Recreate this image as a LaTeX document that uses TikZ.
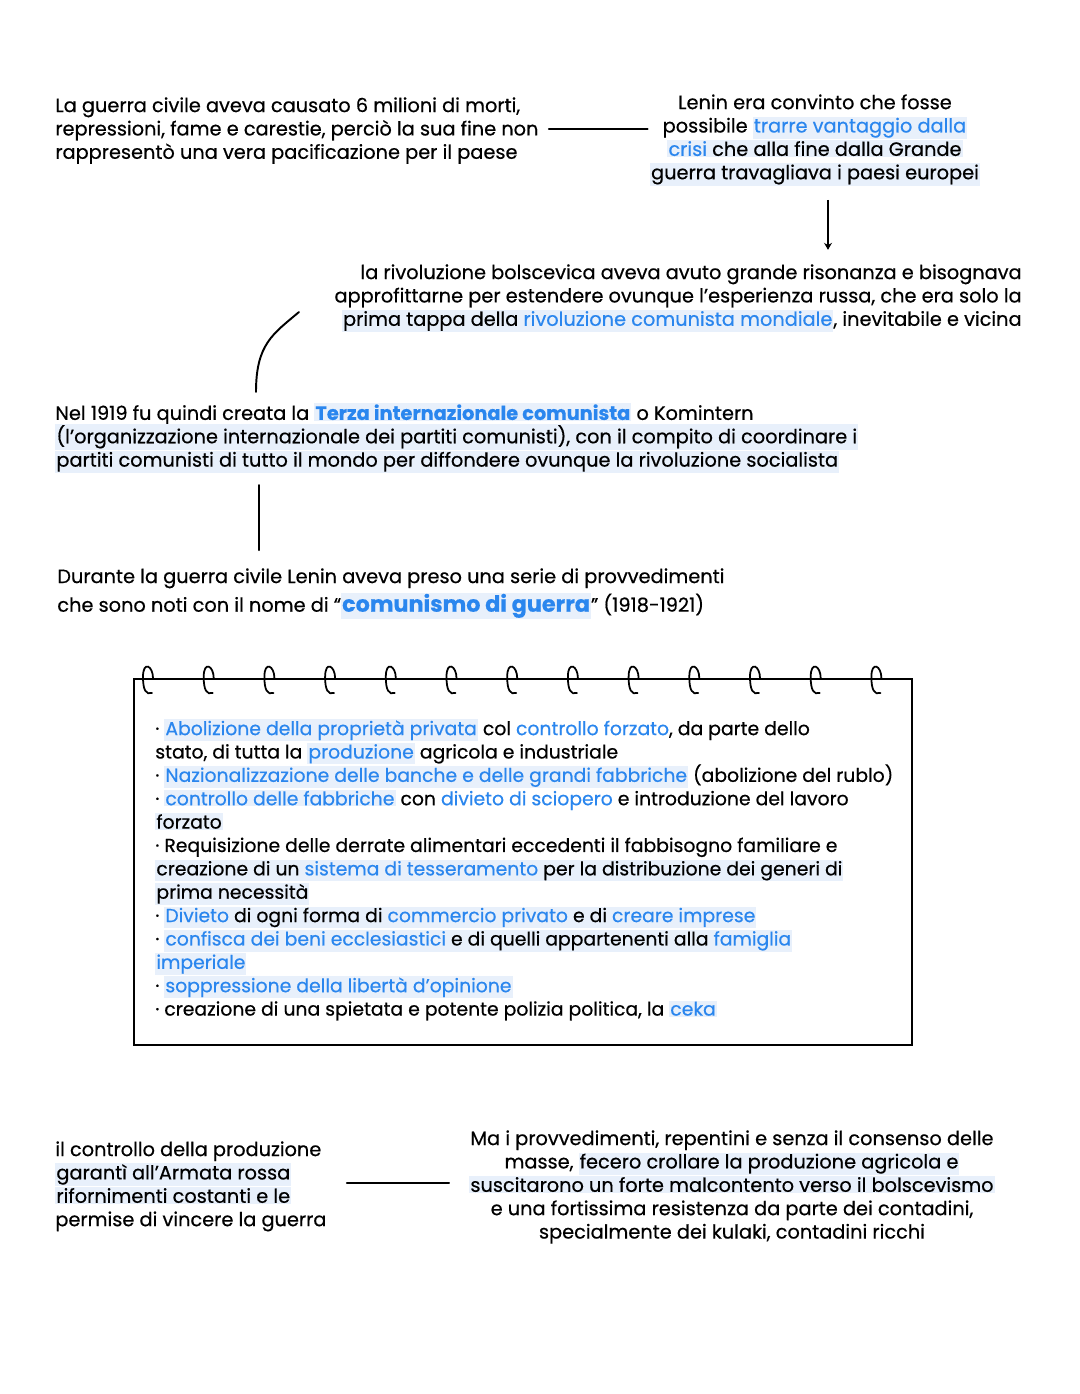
\documentclass[tikz,border=0pt]{standalone}
\usepackage{fontspec}
\setmainfont[FakeBold=0.5]{Poppins}
\usepackage{xcolor}
\usetikzlibrary{arrows.meta,positioning,calc}
\definecolor{penblue}{HTML}{2A86EE}
\definecolor{marker}{HTML}{E8F0FB}
\newcommand{\bl}[1]{\textcolor{penblue}{#1}}
\newcommand{\hl}[1]{{\setlength{\fboxsep}{0.6pt}\colorbox{marker}{#1}}}
\newcommand{\titolo}[1]{\textcolor{penblue}{\bfseries #1}}

\begin{document}
\begin{tikzpicture}[x=0.2mm, y=-0.2mm, >={Stealth[length=4pt,width=4.5pt]},
  every node/.style={font={\fontsize{11}{13.3}\selectfont\lineskiplimit=-20pt}, inner sep=0pt},
  txt/.style={align=left},
  conn/.style={line width=1.1pt, line cap=round},
  notebook/.style={draw, line width=1.3pt, minimum width=155.6mm, minimum height=73.2mm},
  ring/.style={line width=1pt, line cap=round}]
\useasboundingbox[fill=white] (0,0) rectangle (1080,1394);

% in alto
\node[txt, anchor=north west] (guerra) at (55,97) {La guerra civile aveva causato 6 milioni di morti,\\
repressioni, fame e carestie, perciò la sua fine non\\
rappresentò una vera pacificazione per il paese};
\node[align=center, anchor=north] (lenin) at (815,94) {Lenin era convinto che fosse\\
possibile \hl{\bl{trarre vantaggio dalla}}\\
\hl{\bl{crisi} che alla fine dalla Grande}\\
\hl{guerra travagliava i paesi europei}};
\draw[conn] ($(guerra.east)+(10,-2)$) -- ($(guerra.east -| lenin.west)+(-2,-2)$);
\draw[->, line width=1pt] ($(lenin.south)+(13,14)$) -- ($(lenin.south)+(13,64)$);

\node[align=right, anchor=north east] (rivol) at (1022,264) {la rivoluzione bolscevica aveva avuto grande risonanza e bisognava\\
approfittarne per estendere ovunque l'esperienza russa, che era solo la\\
\hl{prima tappa della \bl{rivoluzione comunista mondiale}}, inevitabile e vicina};

% Komintern
\node[txt, anchor=north west] (komintern) at (55,403) {Nel 1919 fu quindi creata la \hl{\titolo{Terza internazionale comunista}} o Komintern\\
\hl{(l'organizzazione internazionale dei partiti comunisti), con il compito di coordinare i}\\
\hl{partiti comunisti di tutto il mondo per diffondere ovunque la rivoluzione socialista}};
\draw[conn] ($(komintern.north west)+(201,-11)$) .. controls +(0,-48) and +(-26,22) .. +(43,-80);

\node[txt, anchor=north west] (durante) at (57,568) {Durante la guerra civile Lenin aveva preso una serie di provvedimenti\\[3pt]
che sono noti con il nome di “\hl{\titolo{\fontsize{12.7}{13}\selectfont comunismo di guerra}}” (1918-1921)};
\draw[conn] ($(komintern.south west)+(204,12)$) -- ($(komintern.south west)+(204,77)$);

% quaderno
\node[notebook, anchor=north west] (nb) at (133,678) {};
\foreach \i in {0,...,12} {
  \coordinate (r) at ($(nb.north west)+({15+60.7*\i},0)$);
  \draw[ring] ($(r)+(5,0)$) .. controls ($(r)+(5,-12)$) and ($(r)+(-5,-18)$) .. ($(r)+(-5,-1)$)
    .. controls ($(r)+(-5,12)$) and ($(r)+(-2,17)$) .. ($(r)+(4,15)$);
}
\node[txt, anchor=north west, font={\fontsize{10.7}{13.3}\selectfont\lineskiplimit=-20pt}] (lista) at ($(nb.north west)+(22,41)$) {· \hl{\bl{Abolizione della proprietà privata}} col \bl{controllo forzato}, da parte dello\\
stato, di tutta la \hl{\bl{produzione}} agricola e industriale\\
· \hl{\bl{Nazionalizzazione delle banche e delle grandi fabbriche}} (abolizione del rublo)\\
· \hl{\bl{controllo delle fabbriche}} con \bl{divieto di sciopero} e introduzione del lavoro\\
\hl{forzato}\\
· Requisizione delle derrate alimentari eccedenti il fabbisogno familiare e\\
\hl{creazione di un \bl{sistema di tesseramento} per la distribuzione dei generi di}\\
\hl{prima necessità}\\
· \hl{\bl{Divieto} di ogni forma di \bl{commercio privato} e di \bl{creare imprese}}\\
· \hl{\bl{confisca dei beni ecclesiastici} e di quelli appartenenti alla \bl{famiglia}}\\
\hl{\bl{imperiale}}\\
· \hl{\bl{soppressione della libertà d'opinione}}\\
· creazione di una spietata e potente polizia politica, la \hl{\bl{ceka}}};

% in basso
\node[txt, anchor=north west] (controllo) at (55,1141) {il controllo della produzione\\
\hl{garantì all'Armata rossa}\\
\hl{rifornimenti costanti e le}\\
permise di vincere la guerra};
\node[align=center, anchor=north] (provv) at (732,1130) {Ma i provvedimenti, repentini e senza il consenso delle\\
masse, \hl{fecero crollare la produzione agricola e}\\
\hl{suscitarono un forte malcontento verso il bolscevismo}\\
e una fortissima resistenza da parte dei contadini,\\
specialmente dei kulaki, contadini ricchi};
\draw[conn] ($(controllo.east)+(20,-3)$) -- ($(controllo.east -| provv.west)+(-20,-3)$);
\end{tikzpicture}
\end{document}
